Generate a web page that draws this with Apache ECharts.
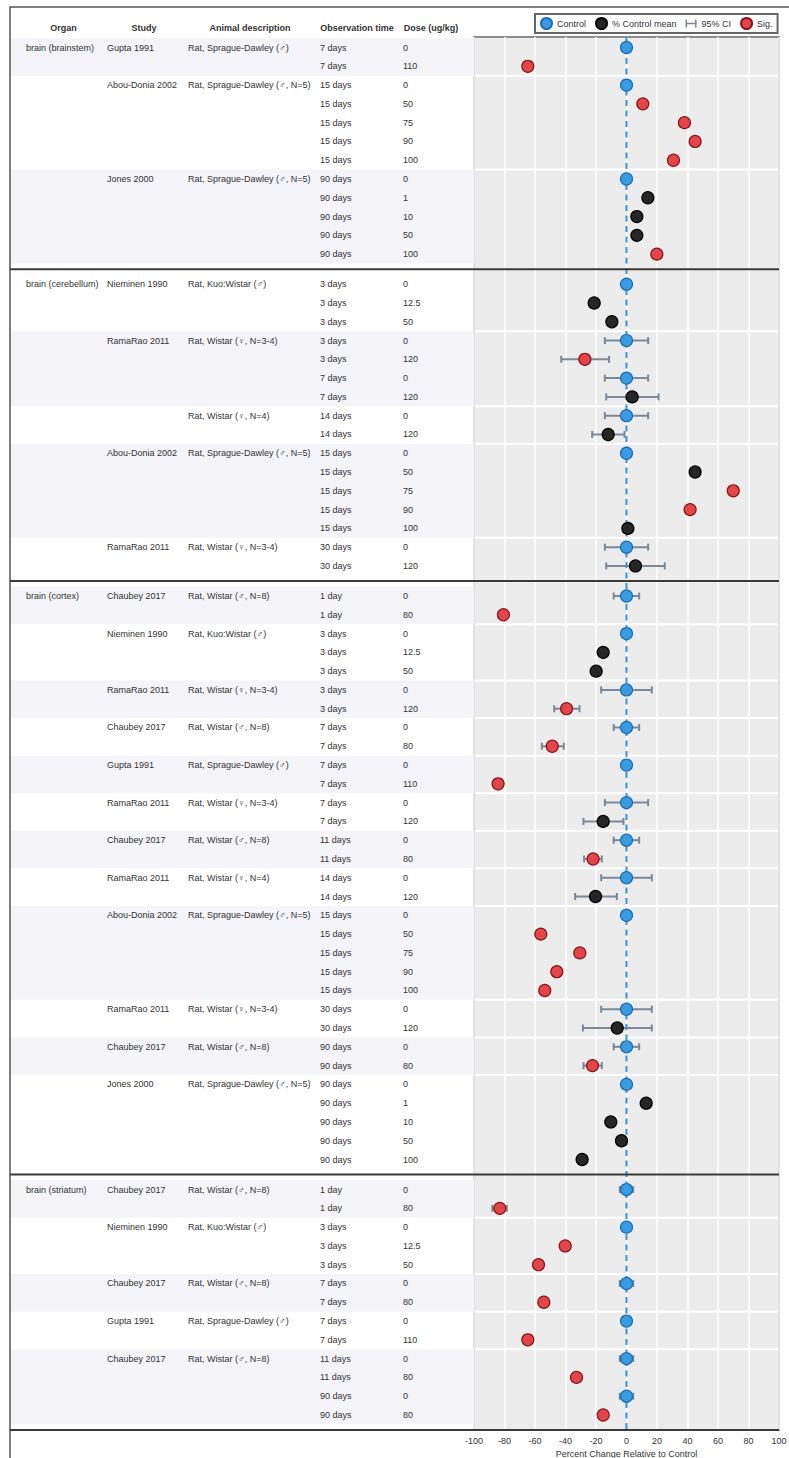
<!DOCTYPE html>
<html><head><meta charset="utf-8">
<script src="https://cdn.jsdelivr.net/npm/echarts@6/dist/echarts.min.js"></script>
<style>html,body{margin:0;padding:0;background:#fff}#c{width:789px;height:1458px}</style>
</head><body><div id="c"></div>
<script>
// ---------- DATA ----------
const organs = ['brain (brainstem)', 'brain (cerebellum)', 'brain (cortex)', 'brain (striatum)'];
const SD = 'Rat, Sprague-Dawley (♂)', SD5 = 'Rat, Sprague-Dawley (♂, N=5)', KW = 'Rat, Kuo:Wistar (♂)',
      W34 = 'Rat, Wistar (♀, N=3-4)', W4 = 'Rat, Wistar (♀, N=4)', W8 = 'Rat, Wistar (♂, N=8)';
const groupOrgan = [0,0,0, 1,1,1,1,1, 2,2,2,2,2,2,2,2,2,2,2,2, 3,3,3,3,3];
const groupStudy = ['Gupta 1991','Abou-Donia 2002','Jones 2000',
  'Nieminen 1990','RamaRao 2011','RamaRao 2011','Abou-Donia 2002','RamaRao 2011',
  'Chaubey 2017','Nieminen 1990','RamaRao 2011','Chaubey 2017','Gupta 1991','RamaRao 2011','Chaubey 2017','RamaRao 2011','Abou-Donia 2002','RamaRao 2011','Chaubey 2017','Jones 2000',
  'Chaubey 2017','Nieminen 1990','Chaubey 2017','Gupta 1991','Chaubey 2017'];
const groupAnimal = [SD,SD5,SD5, KW,W34,W4,SD5,W34, W8,KW,W34,W8,SD,W34,W8,W4,SD5,W34,W8,SD5, W8,KW,W8,SD,W8];
const groupSize = [2,5,5, 3,4,2,5,2, 2,3,2,2,2,2,2,2,5,2,2,5, 2,3,2,2,4];

const obsTime = [
  '7 days','7 days','15 days','15 days','15 days','15 days','15 days','90 days','90 days','90 days','90 days','90 days',
  '3 days','3 days','3 days','3 days','3 days','7 days','7 days','14 days','14 days','15 days','15 days','15 days','15 days','15 days','30 days','30 days',
  '1 day','1 day','3 days','3 days','3 days','3 days','3 days','7 days','7 days','7 days','7 days','7 days','7 days','11 days','11 days','14 days','14 days',
  '15 days','15 days','15 days','15 days','15 days','30 days','30 days','90 days','90 days','90 days','90 days','90 days','90 days','90 days',
  '1 day','1 day','3 days','3 days','3 days','7 days','7 days','7 days','7 days','11 days','11 days','90 days','90 days'];
const dose = [
  0,110, 0,50,75,90,100, 0,1,10,50,100,
  0,12.5,50, 0,120,0,120, 0,120, 0,50,75,90,100, 0,120,
  0,80, 0,12.5,50, 0,120, 0,80, 0,110, 0,120, 0,80, 0,120, 0,50,75,90,100, 0,120, 0,80, 0,1,10,50,100,
  0,80, 0,12.5,50, 0,80, 0,110, 0,80,0,80];
// c = control, m = % control mean, s = significant
const marker = [
  'c','s','c','s','s','s','s','c','m','m','m','s',
  'c','m','m','c','s','c','m','c','m','c','m','s','s','m','c','m',
  'c','s','c','m','m','c','s','c','s','c','s','c','m','c','s','c','m','c','s','s','s','s','c','m','c','s','c','m','m','m','m',
  'c','s','c','s','s','c','s','c','s','c','s','c','s'];
const pctChange = [
  0,-64.7,0,10.7,38,45,30.8,0,14,6.8,6.8,19.9,
  0,-21.2,-9.6,0,-27.3,0,3.7,0,-12,0,45,70,41.7,0.9,0,5.9,
  0,-80.7,0,-15.3,-19.9,0,-39.3,0,-48.7,0,-84.2,0,-15.3,0,-21.9,0,-20.3,0,-56.2,-30.6,-45.7,-53.6,0,-6.1,0,-22.3,0,12.9,-10.3,-3.3,-29.1,
  0,-83.1,0,-40.2,-57.7,0,-54.2,0,-64.7,0,-32.8,0,-15.3];
const ciLow = [
  null,null,null,null,null,null,null,null,null,null,null,null,
  null,null,null,-14.2,-42.8,-14.2,-13.3,-14.2,-22.5,null,null,null,null,null,-14.2,-13.3,
  -8.4,-84,null,null,null,-16.6,-47.4,-8.4,-55.5,null,null,-14.2,-28.2,-8.4,-27.8,-16.6,-33.7,null,null,null,null,null,-16.6,-28.6,-8.4,-28.2,null,null,null,null,null,
  -4.4,-88,null,null,null,-4.4,null,null,null,-4.4,null,-4.4,null];
const ciHigh = [
  null,null,null,null,null,null,null,null,null,null,null,null,
  null,null,null,14.2,-11.4,14.2,21,14.2,-1.3,null,null,null,null,null,14.2,25.1,
  8.3,-77.5,null,null,null,16.6,-30.8,8.3,-41.1,null,null,14.2,-2,8.3,-16.2,16.6,-6.3,null,null,null,null,null,16.6,16.6,8.3,-16.2,null,null,null,null,null,
  4.4,-78.5,null,null,null,4.4,null,null,null,4.4,null,4.4,null];
const xTicks = [-100,-80,-60,-40,-20,0,20,40,60,80,100];
const headers = ['Organ','Study','Animal description','Observation time','Dose (ug/kg)'];

// ---------- LAYOUT HELPERS ----------
const GAP = 0.6;
const rowOrgan = [], groupStart = [];
let r = 0;
groupSize.forEach((n, g) => { groupStart.push(r); for (let k = 0; k < n; k++) { rowOrgan.push(groupOrgan[g]); r++; } });
const pos = rowOrgan.map((o, i) => i + GAP * o);
const organEnd = organs.map((_, o) => { let last = 0; rowOrgan.forEach((oo, i) => { if (oo === o) last = i; }); return last; });
const organStart = organs.map((_, o) => rowOrgan.indexOf(o));
const yMin = -0.56;
const yMax = pos[pos.length - 1] + 0.5 + GAP / 2;

const PL = 474, PR = 779, FONT = '"Liberation Sans", Arial, sans-serif', TXT = '#333';
const colX = [26, 107, 188, 320, 403];
const headX = [63.5, 144, 250, 357, 431];

function txt(x, y, s) {
  return { type: 'text', x: x, y: y, silent: true,
    style: { text: s, fill: TXT, fontSize: 9, fontFamily: FONT, align: 'left', verticalAlign: 'middle' } };
}

function renderGroup(params, api) {
  const g = params.dataIndex;
  const s = groupStart[g], e = s + groupSize[g] - 1;
  const y0 = api.coord([0, pos[s] - 0.5])[1], y1 = api.coord([0, pos[e] + 0.5])[1];
  const yc = api.coord([0, pos[s]])[1];
  const ch = [];
  if (g % 2 === 0) ch.push({ type: 'rect', shape: { x: 11, y: y0, width: PL - 11, height: y1 - y0 }, style: { fill: '#f4f4f9' }, silent: true });
  if (g + 1 < groupSize.length && groupOrgan[g + 1] === groupOrgan[g])
    ch.push({ type: 'line', shape: { x1: PL + 1, y1: y1, x2: PR - 1, y2: y1 }, style: { stroke: '#ffffff', lineWidth: 2 }, silent: true });
  const first = g === 0 || groupOrgan[g - 1] !== groupOrgan[g];
  if (first || groupStudy[g - 1] !== groupStudy[g]) ch.push(txt(colX[1], yc, groupStudy[g]));
  ch.push(txt(colX[2], yc, groupAnimal[g]));
  return { type: 'group', children: ch };
}
function renderRow(params, api) {
  const i = params.dataIndex;
  const y = api.coord([0, pos[i]])[1];
  const ch = [txt(colX[3], y, obsTime[i]), txt(colX[4], y, String(dose[i]))];
  if (organStart[rowOrgan[i]] === i) ch.push(txt(colX[0], y, organs[rowOrgan[i]]));
  return { type: 'group', children: ch };
}
function renderSep(params, api) {
  const o = params.dataIndex;
  const y = api.coord([0, pos[organEnd[o]] + 0.5 + GAP / 2])[1];
  return { type: 'line', shape: { x1: 10, y1: y, x2: PR, y2: y }, style: { stroke: '#3a3a3a', lineWidth: 2 }, silent: true };
}
function renderZero(params, api) {
  const a = api.coord([0, yMin]), b = api.coord([0, yMax]);
  return { type: 'line', shape: { x1: a[0], y1: a[1], x2: b[0], y2: b[1] }, style: { stroke: '#3d8fd1', lineWidth: 2, lineDash: [6, 4.5] }, silent: true };
}
function renderCI(params, api) {
  const lo = api.coord([api.value(0), api.value(2)]), hi = api.coord([api.value(1), api.value(2)]);
  const st = { stroke: '#7a8899', lineWidth: 2 };
  return { type: 'group', children: [
    { type: 'line', shape: { x1: lo[0], y1: lo[1], x2: hi[0], y2: hi[1] }, style: st },
    { type: 'line', shape: { x1: lo[0], y1: lo[1] - 3.5, x2: lo[0], y2: lo[1] + 3.5 }, style: st },
    { type: 'line', shape: { x1: hi[0], y1: hi[1] - 3.5, x2: hi[0], y2: hi[1] + 3.5 }, style: st }
  ] };
}

const ciData = [];
pctChange.forEach((v, i) => { if (ciLow[i] !== null) ciData.push([ciLow[i], ciHigh[i], pos[i]]); });
const pts = t => pctChange.map((v, i) => marker[i] === t ? [v, pos[i]] : null).filter(Boolean);

const chart = echarts.init(document.getElementById('c'), null, { renderer: 'svg' });
chart.setOption({
  animation: false,
  backgroundColor: '#ffffff',
  textStyle: { fontFamily: FONT },
  grid: { left: PL, top: 37, width: PR - PL, height: 1393, outerBoundsMode: 'none', containLabel: false,
          show: true, backgroundColor: '#ececec', borderColor: '#8c8c8c', borderWidth: 2 },
  xAxis: {
    type: 'value', min: xTicks[0], max: xTicks[xTicks.length - 1], interval: 20,
    axisLine: { show: false }, axisTick: { show: false },
    axisLabel: { fontSize: 9, color: TXT, margin: 6, fontFamily: FONT },
    splitLine: { show: true, lineStyle: { color: '#ffffff', width: 1.5 } },
    name: 'Percent Change Relative to Control', nameLocation: 'middle', nameGap: 19,
    nameTextStyle: { fontSize: 9, color: TXT, fontFamily: FONT }
  },
  yAxis: { type: 'value', inverse: true, min: yMin, max: yMax, show: false, splitLine: { show: false } },
  legend: {
    left: 535, top: 14, orient: 'horizontal', itemWidth: 11, itemHeight: 11, itemGap: 9,
    padding: [3, 5], borderColor: '#666', borderWidth: 2, borderRadius: 0,
    textStyle: { fontSize: 9, color: TXT, fontFamily: FONT },
    data: [
      { name: 'Control', icon: 'circle' },
      { name: '% Control mean', icon: 'circle' },
      { name: '95% CI', icon: 'path://M0,0H2V4H12V0H14V10H12V6H2V10H0Z' },
      { name: 'Sig.', icon: 'circle' }
    ],
    selectedMode: false
  },
  graphic: [
    { type: 'rect', shape: { x: 10, y: 7, width: 900, height: 1600 }, style: { fill: 'none', stroke: '#555', lineWidth: 1.5 }, silent: true, z: 0 }
  ].concat(headers.map((h, k) => ({
    type: 'text', x: headX[k], y: 28, silent: true,
    style: { text: h, fill: TXT, fontSize: 9, fontWeight: 'bold', fontFamily: FONT, align: 'center', verticalAlign: 'middle' }
  }))),
  series: [
    { type: 'custom', name: 'groups', z: 1, renderItem: renderGroup, data: groupSize.map((n, g) => [0, pos[groupStart[g]]]), silent: true },
    { type: 'custom', name: 'rows', z: 1, renderItem: renderRow, data: pos.map(p => [0, p]), silent: true },
    { type: 'custom', name: 'zero', z: 2, renderItem: renderZero, data: [[0, 0]], silent: true },
    { type: 'custom', name: 'seps', z: 2, renderItem: renderSep, data: organs.map((o, k) => [0, pos[organEnd[k]]]), silent: true },
    { type: 'custom', name: '95% CI', z: 3, renderItem: renderCI, data: ciData, itemStyle: { color: '#7a8899' }, silent: true },
    { type: 'scatter', name: 'Control', z: 4, symbolSize: 12, data: pts('c'), itemStyle: { color: '#3b9be0', borderColor: '#1d6db3', borderWidth: 1.2, opacity: 1 } },
    { type: 'scatter', name: '% Control mean', z: 4, symbolSize: 12, data: pts('m'), itemStyle: { color: '#262626', borderColor: '#000', borderWidth: 1.2, opacity: 1 } },
    { type: 'scatter', name: 'Sig.', z: 4, symbolSize: 12, data: pts('s'), itemStyle: { color: '#e2464b', borderColor: '#8a1518', borderWidth: 1.2, opacity: 1 } }
  ]
});
</script></body></html>
